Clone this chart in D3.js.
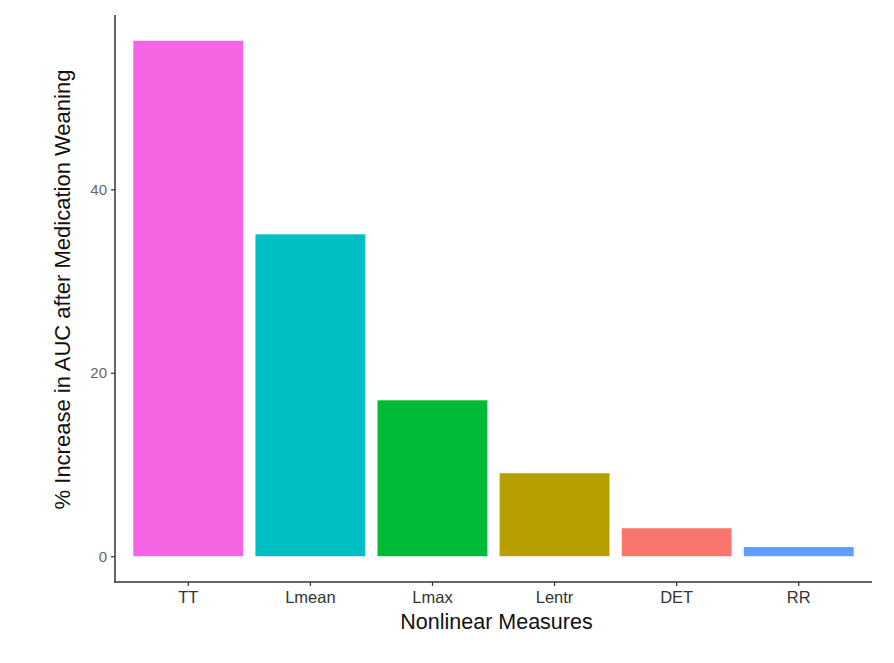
<!DOCTYPE html>
<html>
<head>
<meta charset="utf-8">
<script src="https://cdn.jsdelivr.net/npm/d3@7"></script>
<style>
  body { margin: 0; background: #fff; }
  svg text { font-family: "Liberation Sans", Arial, sans-serif; }
</style>
</head>
<body>
<div id="chart"></div>
<script>
// data
const measures = ["TT", "Lmean", "Lmax", "Lentr", "DET", "RR"];
const increase = [56.2, 35.1, 17.0, 9.05, 3.05, 1.0];
const barColors = ["#F564E3", "#00BFC4", "#00BA38", "#B79F00", "#F8766D", "#619CFF"];
const yTicks = [0, 20, 40];

const width = 894;
const height = 663;
const plotLeft = 115, plotRight = 872, plotTop = 15, plotBottom = 582;

const svg = d3.select("#chart")
    .append("svg")
    .attr("width", width)
    .attr("height", height);

const x = d3.scaleBand()
    .domain(measures)
    .range([plotLeft, plotRight])
    .paddingInner(0.1)
    .paddingOuter(0.15);

const yMax = d3.max(increase) * 1.05;
const yMin = -d3.max(increase) * 0.05;
const y = d3.scaleLinear()
    .domain([yMin, yMax])
    .range([plotBottom, plotTop]);

// bars
svg.append("g")
    .selectAll("rect")
    .data(measures)
    .enter()
    .append("rect")
    .attr("x", d => x(d))
    .attr("width", x.bandwidth())
    .attr("y", (d, i) => y(increase[i]))
    .attr("height", (d, i) => y(0) - y(increase[i]))
    .attr("fill", (d, i) => barColors[i]);

// axes
const yAxis = d3.axisLeft(y).tickValues(yTicks).tickSize(4).tickPadding(4);
const gy = svg.append("g")
    .attr("transform", "translate(" + plotLeft + ",0)")
    .call(yAxis);
gy.select(".domain").remove();
gy.append("line")
    .attr("x1", 0).attr("x2", 0)
    .attr("y1", plotTop).attr("y2", plotBottom + 0.75)
    .attr("stroke", "#333").attr("stroke-width", 1.5);

const xAxis = d3.axisBottom(x).tickSize(4).tickPadding(5);
const gx = svg.append("g")
    .attr("transform", "translate(0," + plotBottom + ")")
    .call(xAxis);
gx.select(".domain").remove();
gx.append("line")
    .attr("x1", plotLeft - 0.75).attr("x2", plotRight)
    .attr("y1", 0).attr("y2", 0)
    .attr("stroke", "#333").attr("stroke-width", 1.5);

svg.selectAll(".tick line").attr("stroke", "#333").attr("stroke-width", 1.2);
gy.selectAll(".tick text")
    .attr("fill", "#666")
    .style("font-size", "15px");
gx.selectAll(".tick text")
    .attr("fill", "#333")
    .style("font-size", "16.5px");

// axis titles
svg.append("text")
    .attr("x", (plotLeft + plotRight) / 2 + 3)
    .attr("y", 629)
    .attr("text-anchor", "middle")
    .style("font-size", "21.5px")
    .attr("fill", "#111")
    .text("Nonlinear Measures");

svg.append("text")
    .attr("transform", "translate(70," + ((plotTop + plotBottom) / 2 - 9) + ") rotate(-90)")
    .attr("text-anchor", "middle")
    .style("font-size", "22px")
    .attr("fill", "#111")
    .text("% Increase in AUC after Medication Weaning");
</script>
</body>
</html>
